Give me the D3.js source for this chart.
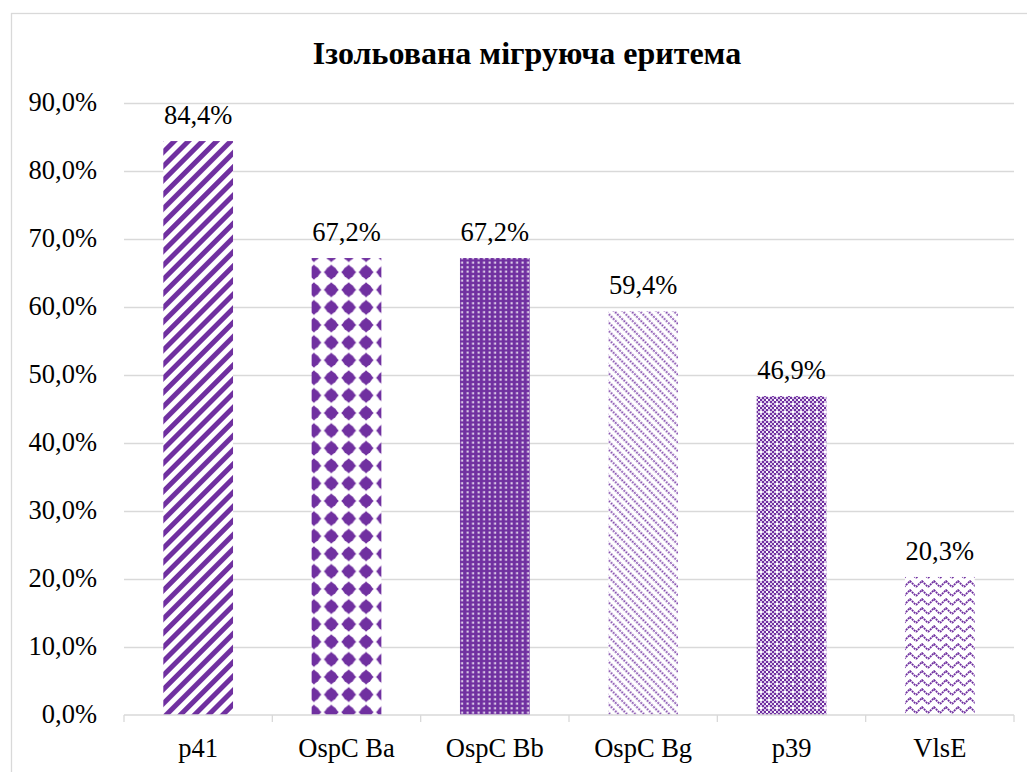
<!DOCTYPE html>
<html>
<head>
<meta charset="utf-8">
<script src="https://d3js.org/d3.v7.min.js"></script>
<title>chart</title>
<style>
  body { margin: 0; background: #fff; }
  .grid line { stroke: #d9d9d9; stroke-width: 1.3; }
  .grid .domain { stroke: none; }
</style>
</head>
<body>
<svg id="chart"></svg>
<script>
// data
const categories = ["p41", "OspC Ba", "OspC Bb", "OspC Bg", "p39", "VlsE"];
const values = [84.4, 67.2, 67.2, 59.4, 46.9, 20.3];
const yTicks = [0, 10, 20, 30, 40, 50, 60, 70, 80, 90];
const title = "Ізольована мігруюча еритема";

const width = 1027, height = 772;
const margins = {top: 103, right: 13, bottom: 57, left: 124};
const purple = "#7030A0";
const serif = '"Liberation Serif"';

let svg = d3.select("svg#chart")
            .attr("width", width)
            .attr("height", height);

// chart frame
svg.append("rect")
   .attr("x", 11.5).attr("y", 13.5)
   .attr("width", 1040).attr("height", 800)
   .attr("fill", "white")
   .attr("stroke", "#d9d9d9")
   .attr("stroke-width", 1.3);

// patterns
let defs = svg.append("defs");

// p41 - wide upward diagonal
let p1 = defs.append("pattern").attr("id", "pat0")
   .attr("patternUnits", "userSpaceOnUse")
   .attr("width", 10).attr("height", 10)
   .attr("patternTransform", "rotate(45)");
p1.append("rect").attr("width", 10).attr("height", 10).attr("fill", "white");
p1.append("rect").attr("width", 5).attr("height", 10).attr("fill", purple);

// OspC Ba - diamonds
let p2 = defs.append("pattern").attr("id", "pat1")
   .attr("patternUnits", "userSpaceOnUse")
   .attr("x", 124 + 5).attr("y", 2)
   .attr("width", 17.4).attr("height", 17.6);
p2.append("rect").attr("width", 17.4).attr("height", 17.6).attr("fill", "white");
p2.append("circle").attr("cx", 8.7).attr("cy", 8.8).attr("r", 5.8).attr("fill", purple);
p2.append("path").attr("d", "M8.7,1.3 L16.2,8.8 L8.7,16.3 L1.2,8.8Z").attr("fill", purple);

// OspC Bb - solid with small white dots
let p3 = defs.append("pattern").attr("id", "pat2")
   .attr("patternUnits", "userSpaceOnUse")
   .attr("width", 5.5).attr("height", 4.5);
p3.append("rect").attr("width", 5.5).attr("height", 4.5).attr("fill", purple);
p3.append("rect").attr("x", 1.5).attr("y", 1.2).attr("width", 2.2).attr("height", 2).attr("fill", "#e6dbef");

// OspC Bg - dashed downward diagonal
let p4 = defs.append("pattern").attr("id", "pat3")
   .attr("patternUnits", "userSpaceOnUse")
   .attr("width", 6).attr("height", 6)
   .attr("patternTransform", "rotate(-45)");
p4.append("rect").attr("width", 6).attr("height", 6).attr("fill", "white");
p4.append("line").attr("x1", 1.5).attr("y1", 0).attr("x2", 1.5).attr("y2", 6)
  .attr("stroke", purple).attr("stroke-width", 1.8).attr("stroke-dasharray", "2,1").attr("opacity", 0.85);

// p39 - light checker weave
let p5 = defs.append("pattern").attr("id", "pat4")
   .attr("patternUnits", "userSpaceOnUse")
   .attr("width", 8).attr("height", 8);
p5.append("rect").attr("width", 8).attr("height", 8).attr("fill", "#d9c8e8");
[[0, 0], [4, 0], [2, 2], [6, 2], [0, 4], [2, 6], [6, 6]].forEach(c => {
  p5.append("rect").attr("x", c[0]).attr("y", c[1]).attr("width", 2).attr("height", 2).attr("fill", purple);
});
p5.append("rect").attr("x", 4).attr("y", 4).attr("width", 2).attr("height", 2).attr("fill", "white");
p5.append("rect").attr("x", 2).attr("y", 0).attr("width", 2).attr("height", 2).attr("fill", "white");

// VlsE - zigzag
let p6 = defs.append("pattern").attr("id", "pat5")
   .attr("patternUnits", "userSpaceOnUse")
   .attr("width", 12).attr("height", 9);
p6.append("rect").attr("width", 12).attr("height", 9).attr("fill", "white");
p6.append("path").attr("d", "M0,7 L6,1 L12,7")
  .attr("fill", "none").attr("stroke", purple).attr("stroke-width", 1.8).attr("stroke-dasharray", "2,0.8");

const chartWidth = width - margins.left - margins.right;
const chartHeight = 715 - margins.top;

let chartArea = svg.append("g")
   .attr("transform", `translate(${margins.left}, ${margins.top})`);

const xScale = d3.scaleBand()
   .domain(categories)
   .range([0, chartWidth])
   .paddingInner(0.53)
   .paddingOuter(0.265);
const yScale = d3.scaleLinear()
   .domain([0, 90])
   .range([chartHeight, 0]);

// gridlines
let grid = d3.axisLeft(yScale)
   .tickValues(yTicks.slice(1))
   .tickSize(-chartWidth)
   .tickFormat("");
chartArea.append("g").attr("class", "grid").call(grid);

// y tick labels
chartArea.selectAll(".ylab")
   .data(yTicks)
   .join("text")
   .attr("class", "ylab")
   .attr("x", -27)
   .attr("y", d => yScale(d))
   .attr("dy", "0.32em")
   .attr("text-anchor", "end")
   .style("font-family", serif)
   .style("font-size", "26.5px")
   .text(d => d.toFixed(1).replace(".", ",") + "%");

// bars
chartArea.selectAll(".bar")
   .data(values)
   .join("rect")
   .attr("class", "bar")
   .attr("x", (d, i) => xScale(categories[i]))
   .attr("y", d => yScale(d))
   .attr("width", xScale.bandwidth())
   .attr("height", d => chartHeight - yScale(d))
   .attr("fill", (d, i) => `url(#pat${i})`);

// data labels
chartArea.selectAll(".vlab")
   .data(values)
   .join("text")
   .attr("class", "vlab")
   .attr("x", (d, i) => xScale(categories[i]) + xScale.bandwidth() / 2)
   .attr("y", d => yScale(d) - 17)
   .attr("text-anchor", "middle")
   .style("font-family", serif)
   .style("font-size", "26.5px")
   .text(d => d.toFixed(1).replace(".", ",") + "%");

// x axis
let xAxis = chartArea.append("g").attr("transform", `translate(0, ${chartHeight})`);
xAxis.append("line")
   .attr("x1", 0).attr("x2", chartWidth)
   .attr("stroke", "#d9d9d9").attr("stroke-width", 1.3);
const step = chartWidth / categories.length;
xAxis.selectAll(".tick")
   .data(d3.range(categories.length + 1))
   .join("line")
   .attr("x1", d => d * step).attr("x2", d => d * step)
   .attr("y1", 0).attr("y2", 7)
   .attr("stroke", "#d9d9d9").attr("stroke-width", 1.3);
xAxis.selectAll(".xlab")
   .data(categories)
   .join("text")
   .attr("class", "xlab")
   .attr("x", d => xScale(d) + xScale.bandwidth() / 2)
   .attr("y", 42)
   .attr("text-anchor", "middle")
   .style("font-family", serif)
   .style("font-size", "26.5px")
   .text(d => d);

// title
svg.append("text")
   .attr("x", 527)
   .attr("y", 64)
   .attr("text-anchor", "middle")
   .style("font-family", serif)
   .style("font-size", "32px")
   .style("font-weight", "bold")
   .text(title);
</script>
</body>
</html>
